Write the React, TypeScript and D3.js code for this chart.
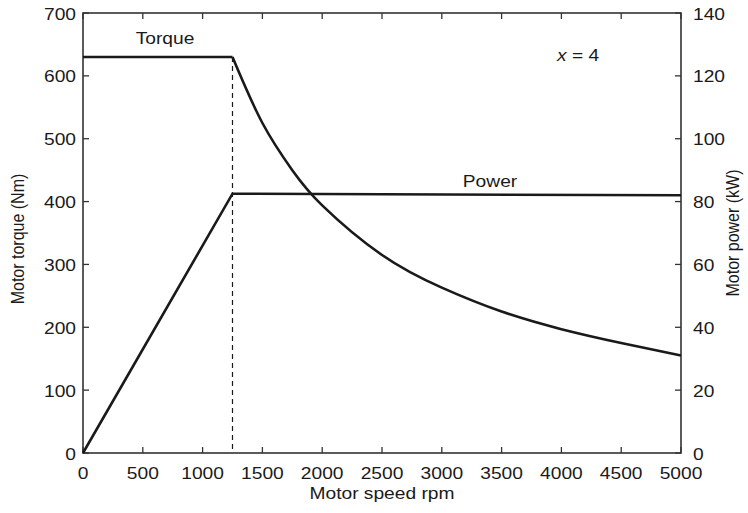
import React from "react";
import * as d3 from "d3";

// Motor characteristic: constant torque up to base speed, then constant power
const speedTicks = [0, 500, 1000, 1500, 2000, 2500, 3000, 3500, 4000, 4500, 5000];
const torqueTicks = [0, 100, 200, 300, 400, 500, 600, 700];
const powerTicks = [0, 20, 40, 60, 80, 100, 120, 140];

const torqueSpeed = [0, 1250, 1500, 1750, 2000, 2500, 3000, 3500, 4000, 4500, 5000];
const torqueValues = [630, 630, 525, 450, 394, 315, 263, 225, 197, 175, 155];

const powerSpeed = [0, 1250, 5000];
const powerValues = [0, 82.5, 82];

const baseSpeed = 1250;

const W = 748;
const H = 513;
const m = { left: 83, right: 67, top: 13, bottom: 60 };
const SX = 1.2; // horizontal stretch of the lettering

export default function App() {
  const x = d3.scaleLinear().domain([0, 5000]).range([m.left, W - m.right]);
  const yT = d3.scaleLinear().domain([0, 700]).range([H - m.bottom, m.top]);
  const yP = d3.scaleLinear().domain([0, 140]).range([H - m.bottom, m.top]);

  const pts = torqueSpeed.map((s, i) => [s, torqueValues[i]] as [number, number]);
  const baseIdx = torqueSpeed.indexOf(baseSpeed);

  // flat constant-torque region, then the constant-power hyperbola
  const flatPath = d3
    .line<[number, number]>()
    .x((d) => x(d[0]))
    .y((d) => yT(d[1]))(pts.slice(0, baseIdx + 1)) as string;
  const fieldWeakPath = d3
    .line<[number, number]>()
    .x((d) => x(d[0]))
    .y((d) => yT(d[1]))
    .curve(d3.curveNatural)(pts.slice(baseIdx)) as string;

  const powerLine = d3
    .line<number>()
    .x((_, i) => x(powerSpeed[i]))
    .y((d) => yP(d))(powerValues) as string;

  const font = "'Liberation Sans', Arial, Helvetica, sans-serif";
  const ink = "#1a1a1a";
  const tl = 6;
  const fs = 16;
  const x0 = x(0), x1 = x(5000), yb = yT(0), yt = yT(700);

  const T = (props: { x: number; y: number; anchor?: string; size?: number; children: React.ReactNode }) => (
    <text
      transform={`translate(${props.x},${props.y}) scale(${SX},1)`}
      dy="0.35em"
      textAnchor={props.anchor || "middle"}
      fontSize={props.size || fs}
      fill={ink}
    >
      {props.children}
    </text>
  );

  return (
    <svg width={W} height={H} style={{ position: "absolute", left: 0, top: 0, background: "#fff" }} fontFamily={font}>
      {/* frame */}
      <rect x={x0} y={yt} width={x1 - x0} height={yb - yt} fill="none" stroke="#333" strokeWidth={1.6} />

      {/* speed ticks, bottom and top, pointing inward */}
      {speedTicks.map((s) => (
        <g key={"s" + s}>
          <line x1={x(s)} x2={x(s)} y1={yb} y2={yb - tl} stroke="#333" strokeWidth={1.3} />
          <line x1={x(s)} x2={x(s)} y1={yt} y2={yt + tl} stroke="#333" strokeWidth={1.3} />
          <T x={x(s)} y={yb + 20}>{s}</T>
        </g>
      ))}

      {/* torque axis */}
      {torqueTicks.map((t) => (
        <g key={"t" + t}>
          <line x1={x0} x2={x0 + tl} y1={yT(t)} y2={yT(t)} stroke="#333" strokeWidth={1.3} />
          <T x={x0 - 7} y={yT(t) + 1} anchor="end">{t}</T>
        </g>
      ))}

      {/* power axis */}
      {powerTicks.map((p) => (
        <g key={"p" + p}>
          <line x1={x1} x2={x1 - tl} y1={yP(p)} y2={yP(p)} stroke="#333" strokeWidth={1.3} />
          <T x={x1 + 12} y={yP(p) + 1} anchor="start">{p}</T>
        </g>
      ))}

      {/* base speed marker */}
      <line x1={x(baseSpeed)} x2={x(baseSpeed)} y1={yT(630)} y2={yb} stroke={ink} strokeWidth={1.2} strokeDasharray="5,4" />

      <path d={flatPath} fill="none" stroke={ink} strokeWidth={2.6} />
      <path d={fieldWeakPath} fill="none" stroke={ink} strokeWidth={2.6} />
      <path d={powerLine} fill="none" stroke={ink} strokeWidth={2.6} strokeLinejoin="miter" />

      <T x={165} y={38}>Torque</T>
      <T x={490} y={181}>Power</T>
      <T x={557} y={55} anchor="start">
        <tspan fontStyle="italic">x</tspan> = 4
      </T>

      <T x={(x0 + x1) / 2} y={493}>Motor speed rpm</T>
      <text transform={`translate(24,${(yt + yb) / 2 + 6}) rotate(-90) scale(1,${SX})`} textAnchor="middle" fontSize={16} fill={ink}>Motor torque (Nm)</text>
      <text transform={`translate(739,${(yt + yb) / 2}) rotate(-90) scale(1,${SX})`} textAnchor="middle" fontSize={16} fill={ink}>Motor power (kW)</text>
    </svg>
  );
}
